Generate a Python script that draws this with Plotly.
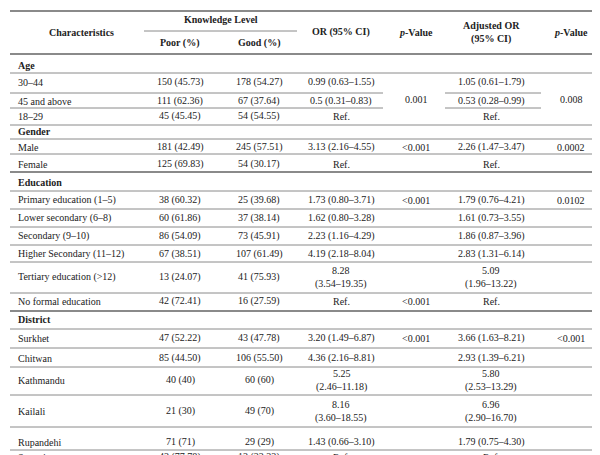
import plotly.graph_objects as go

sections = ["Age", "Gender", "Education", "District"]
labels = [
    ["30–44", "45 and above", "18–29"],
    ["Male", "Female"],
    ["Primary education (1–5)", "Lower secondary (6–8)", "Secondary (9–10)",
     "Higher Secondary (11–12)", "Tertiary education (>12)", "No formal education"],
    ["Surkhet", "Chitwan", "Kathmandu", "Kailali", "Rupandehi", "Syangja"],
]
poor = [["150 (45.73)", "111 (62.36)", "45 (45.45)"],
        ["181 (42.49)", "125 (69.83)"],
        ["38 (60.32)", "60 (61.86)", "86 (54.09)", "67 (38.51)", "13 (24.07)", "42 (72.41)"],
        ["47 (52.22)", "85 (44.50)", "40 (40)", "21 (30)", "71 (71)", "42 (77.78)"]]
good = [["178 (54.27)", "67 (37.64)", "54 (54.55)"],
        ["245 (57.51)", "54 (30.17)"],
        ["25 (39.68)", "37 (38.14)", "73 (45.91)", "107 (61.49)", "41 (75.93)", "16 (27.59)"],
        ["43 (47.78)", "106 (55.50)", "60 (60)", "49 (70)", "29 (29)", "12 (22.22)"]]
or_ci = [["0.99 (0.63–1.55)", "0.5 (0.31–0.83)", "Ref."],
         ["3.13 (2.16–4.55)", "Ref."],
         ["1.73 (0.80–3.71)", "1.62 (0.80–3.28)", "2.23 (1.16–4.29)", "4.19 (2.18–8.04)",
          "8.28<br>(3.54–19.35)", "Ref."],
         ["3.20 (1.49–6.87)", "4.36 (2.16–8.81)", "5.25<br>(2.46–11.18)", "8.16<br>(3.60–18.55)",
          "1.43 (0.66–3.10)", "Ref."]]
adj_or = [["1.05 (0.61–1.79)", "0.53 (0.28–0.99)", "Ref."],
          ["2.26 (1.47–3.47)", "Ref."],
          ["1.79 (0.76–4.21)", "1.61 (0.73–3.55)", "1.86 (0.87–3.96)", "2.83 (1.31–6.14)",
           "5.09<br>(1.96–13.22)", "Ref."],
          ["3.66 (1.63–8.21)", "2.93 (1.39–6.21)", "5.80<br>(2.53–13.29)", "6.96<br>(2.90–16.70)",
           "1.79 (0.75–4.30)", "Ref."]]
p_val = [["", "0.001", ""], ["<0.001", ""],
         ["<0.001", "", "", "", "", "<0.001"], ["<0.001", "", "", "", "", ""]]
adj_p = [["", "0.008", ""], ["0.0002", ""],
         ["0.0102", "", "", "", "", ""], ["<0.001", "", "", "", "", ""]]

# layout geometry (pixels)
sec_y = [57, 123, 174, 311]
row_y = [[74, 93, 108], [139, 156],
         [192, 210, 228, 246, 269, 293],
         [330, 350, 372, 403, 434, 449]]
p_y_override = {(0, 1): 91}
thin_full = [65, 117, 131, 146, 183, 201, 219, 237, 254, 285, 321, 340, 359, 387, 419, 442]
partial = [85, 100]
thick = [3, 46, 164, 303, 454]

cx = {"poor": 172, "good": 251, "or": 333, "p": 408, "adj": 483, "p2": 563}
FONT = "Liberation Serif"
C = "#222"
ann = []
def t(x, y, s, bold=False, anchor="center", size=10):
    ann.append(dict(x=x, y=y, xref="x", yref="y", text=(f"<b>{s}</b>" if bold else s),
                    showarrow=False, xanchor=anchor, yanchor="middle",
                    font=dict(family=FONT, size=size, color=C)))

t(73, 24, "Characteristics", True)
t(213, 11, "Knowledge Level", True)
t(172, 35, "Poor (%)", True)
t(251, 35, "Good (%)", True)
t(333, 24, "OR (95% CI)", True)
t(408, 24, "<i>p</i>-Value", True)
t(483, 24, "Adjusted OR<br>(95% CI)", True)
t(563, 24, "<i>p</i>-Value", True)

for si, sec in enumerate(sections):
    t(8, sec_y[si], sec, True, "left")
    for ri, lab in enumerate(labels[si]):
        y = row_y[si][ri]
        t(8, y, lab, anchor="left")
        t(cx["poor"], y, poor[si][ri])
        t(cx["good"], y, good[si][ri])
        t(cx["or"], y, or_ci[si][ri])
        t(cx["adj"], y, adj_or[si][ri])
        py = p_y_override.get((si, ri), y)
        if p_val[si][ri]:
            t(cx["p"], py, p_val[si][ri].replace("<", "&lt;"))
        if adj_p[si][ri]:
            t(cx["p2"], py, adj_p[si][ri].replace("<", "&lt;"))

shapes = []
def line(x0, x1, y, w, col):
    shapes.append(dict(type="line", xref="x", yref="y", x0=x0, x1=x1, y0=y, y1=y,
                       line=dict(color=col, width=w)))
for y in thin_full:
    line(2, 598, y, 1, "#8a8a8a")
for y in partial:
    line(2, 375, y, 1, "#8a8a8a")
    line(437, 533, y, 1, "#8a8a8a")
line(136, 289, 23, 1, "#8a8a8a")
for y in thick:
    line(2, 598, y, 2, "#8a8a8a")

fig = go.Figure()
fig.update_layout(width=600, height=455, margin=dict(l=0, r=0, t=0, b=0),
                  paper_bgcolor="white", plot_bgcolor="white",
                  xaxis=dict(range=[0, 600], visible=False, fixedrange=True),
                  yaxis=dict(range=[455, 0], visible=False, fixedrange=True),
                  annotations=ann, shapes=shapes, showlegend=False)
fig.write_html("out.html")
